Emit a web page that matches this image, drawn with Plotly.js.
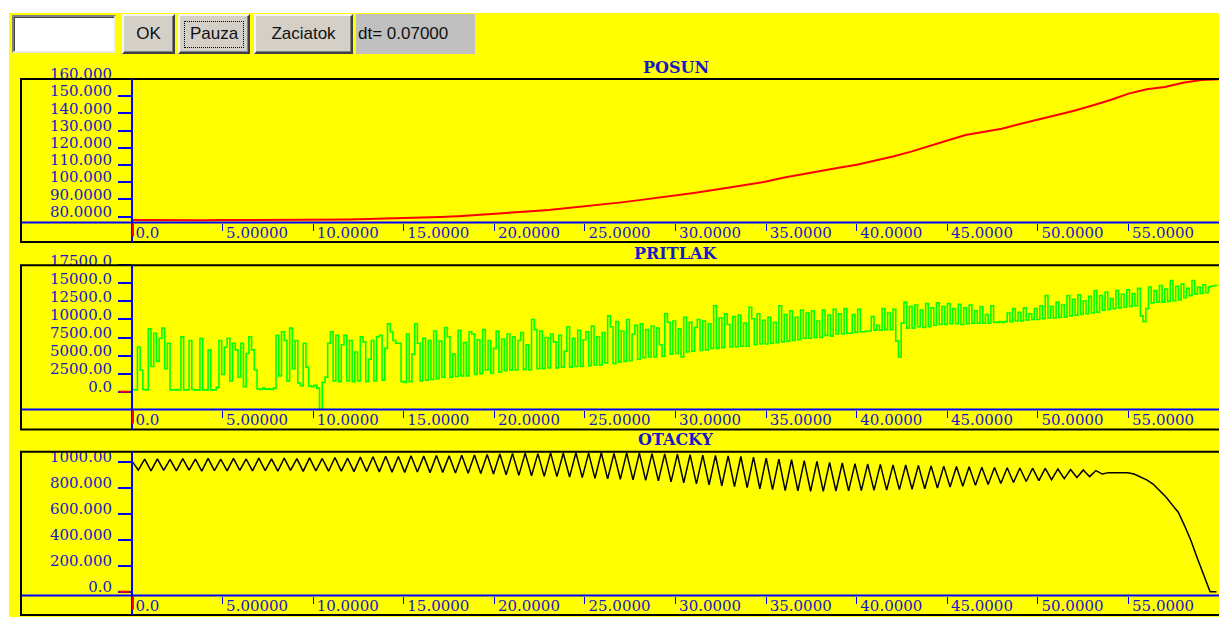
<!DOCTYPE html>
<html><head><meta charset="utf-8">
<script src="https://cdn.plot.ly/plotly-3.0.1.min.js"></script>
<style>
html,body{margin:0;padding:0;background:#fff;width:1219px;height:617px;overflow:hidden;}
#chart{position:absolute;left:0;top:0;width:1219px;height:617px;}
.ctl{position:absolute;box-sizing:border-box;font-family:'Liberation Sans',Arial,sans-serif;font-size:17px;color:#111;display:flex;align-items:center;justify-content:center;z-index:5;}
.btn{background:#d4d0c8;border-top:2px solid #f4f4f4;border-left:2px solid #f4f4f4;border-right:2px solid #404040;border-bottom:2px solid #404040;box-shadow:inset -1px -1px 0 #808080;}
.inp{background:#fff;border-top:2px solid #808080;border-left:2px solid #808080;border-right:2px solid #e8e8e8;border-bottom:2px solid #e8e8e8;box-shadow:inset 1px 1px 0 #404040;}
.lbl{background:#c0c0c0;justify-content:flex-start;padding-left:2px;}
.focus{position:absolute;left:4px;top:5px;right:4px;bottom:4px;border:1px dotted #000;}
</style>
</head><body>
<div id="chart"></div>
<div class="ctl inp" style="left:12px;top:15px;width:104px;height:38px;"></div>
<div class="ctl btn" style="left:122px;top:14px;width:53px;height:40px;">OK</div>
<div class="ctl btn" style="left:178px;top:14px;width:72px;height:40px;"><div class="focus"></div>Pauza</div>
<div class="ctl btn" style="left:254px;top:14px;width:99px;height:40px;">Zaciatok</div>
<div class="ctl lbl" style="left:356px;top:14px;width:119px;height:40px;">dt= 0.07000</div>
<script>
// ---------------- data ----------------
const xTickVals = [0, 5, 10, 15, 20, 25, 30, 35, 40, 45, 50, 55];
const xTickText = ["0.0", "5.00000", "10.0000", "15.0000", "20.0000", "25.0000", "30.0000", "35.0000", "40.0000", "45.0000", "50.0000", "55.0000"];

const posunTickVals = [80, 90, 100, 110, 120, 130, 140, 150, 160];
const posunTickText = ["80.0000", "90.0000", "100.000", "110.000", "120.000", "130.000", "140.000", "150.000", "160.000"];
const pritlakTickVals = [0, 2500, 5000, 7500, 10000, 12500, 15000, 17500];
const pritlakTickText = ["0.0", "2500.00", "5000.00", "7500.00", "10000.0", "12500.0", "15000.0", "17500.0"];
const otackyTickVals = [0, 200, 400, 600, 800, 1000];
const otackyTickText = ["0.0", "200.000", "400.000", "600.000", "800.000", "1000.00"];

// sample steps (s) of the read-off series
const posunStep = 1;
const pritlakStep = 0.15;
const otackyStep = 0.35;

// POSUN, one value per second from t = 0
const posun = [78.0, 77.9, 77.9, 78.0, 77.9, 78.0, 78.0, 78.1, 78.0, 78.1,
  78.2, 78.3, 78.4, 78.6, 78.8, 79.1, 79.4, 79.8, 80.3, 80.9,
  81.6, 82.3, 83.1, 83.9, 84.9, 86.0, 87.1, 88.3, 89.6, 90.9,
  92.3, 93.8, 95.3, 96.9, 98.6, 100.4, 102.7, 104.7, 106.5, 108.4,
  110.2, 112.4, 115.0, 117.8, 121.2, 124.3, 127.4, 129.4, 131.1, 133.8,
  136.4, 138.7, 141.5, 144.6, 147.8, 151.5, 154.0, 155.4, 157.8, 159.4, 159.9];

// PRITLAK, one value per 0.15 s from t = 0
const pritlak = [300, 250, 6200, 3000, 300, 250, 8700, 3500, 8100, 4200,
  7400, 8800, 3200, 6700, 250, 250, 250, 250, 7600, 250,
  250, 7100, 300, 250, 250, 7400, 250, 250, 5800, 250,
  250, 600, 7100, 2400, 6200, 7400, 1500, 6700, 5800, 2000,
  6700, 700, 5300, 7600, 5800, 3000, 400, 300, 500, 350,
  400, 300, 500, 7800, 2200, 8300, 7100, 1500, 8800, 3200,
  7100, 1200, 800, 6700, 3400, 800, 700, 900, 500, -2500,
  1300, 2000, 6700, 8300, 1500, 7800, 1400, 6500, 7800, 1500,
  7100, 1400, 5500, 1500, 7600, 6900, 1400, 4500, 7100, 1500,
  7600, 7800, 1600, 6000, 9400, 8300, 7100, 6700, 6700, 1400,
  1300, 8000, 1400, 5200, 9400, 6700, 1500, 7400, 1600, 7100,
  1700, 8400, 1800, 7000, 2000, 8900, 7600, 2000, 5200, 2100,
  8500, 2200, 6800, 2200, 8300, 8000, 2400, 7200, 2500, 8600,
  3000, 7100, 2600, 6000, 8400, 2700, 7300, 2900, 8000, 3000,
  7600, 3000, 7100, 8200, 3100, 6500, 3000, 10000, 8600, 3200,
  8400, 3200, 7500, 3300, 8000, 6900, 3300, 7800, 3400, 5600,
  9000, 3400, 7400, 3500, 8500, 3500, 7200, 8300, 3600, 9100,
  3700, 7600, 3700, 8200, 4000, 10500, 9000, 3900, 9700, 4100,
  8400, 4200, 10000, 4300, 8000, 9200, 4500, 9400, 4700, 8600,
  4800, 9100, 4800, 8800, 6500, 4900, 10800, 9600, 5200, 9800,
  5300, 8700, 4800, 10300, 5500, 9600, 5600, 8900, 10000, 5700,
  9800, 5800, 9400, 6000, 11900, 6000, 10200, 6100, 10800, 9300,
  6200, 10400, 6200, 10600, 6300, 9500, 6300, 11700, 10100, 6500,
  10800, 6600, 9900, 6600, 10300, 6700, 9600, 6800, 11900, 6900,
  10700, 7000, 11200, 7100, 10300, 7200, 11300, 7400, 10900, 7400,
  11200, 7500, 9800, 7500, 11300, 7800, 10600, 7700, 11400, 8000,
  10800, 8000, 11500, 8100, 8100, 10700, 8200, 11400, 8300, 8300,
  8400, 8400, 10400, 8500, 9200, 8500, 11500, 8600, 10900, 8600,
  11400, 7000, 4800, 9500, 12400, 8800, 11800, 8800, 12000, 9000,
  11300, 8900, 12200, 9000, 11600, 9200, 12300, 9300, 11800, 9300,
  12200, 9400, 11500, 9400, 12100, 9300, 11600, 9400, 12000, 9500,
  11200, 9500, 11800, 9500, 10700, 9500, 11900, 9600, 9600, 9700,
  9600, 9700, 10900, 9700, 11500, 9800, 11000, 9800, 11600, 9900,
  10800, 10000, 11500, 10000, 11900, 10100, 13300, 10200, 11800, 10200,
  12400, 10300, 12000, 10300, 13300, 10500, 12800, 10600, 13400, 10700,
  12600, 10800, 13200, 10900, 14000, 11000, 13300, 11300, 13800, 11400,
  12900, 11500, 14000, 11600, 13500, 11700, 14100, 11800, 13600, 11900,
  14300, 10500, 9700, 11500, 14500, 12300, 14000, 12400, 14700, 12400,
  14200, 12500, 15400, 12600, 14600, 12700, 14900, 13000, 14300, 13300,
  15400, 13500, 14500, 13600, 14800, 13700, 14500, 14600, 14700, 14800];

// OTACKY, one value per 0.35 s from t = 0 (peaks and troughs)
const otacky = [1005, 935, 1020, 930, 1022, 933, 1018, 930, 1024, 935,
  1020, 928, 1025, 932, 1019, 930, 1026, 934, 1021, 929,
  1027, 931, 1022, 928, 1028, 933, 1024, 926, 1030, 930,
  1025, 927, 1032, 928, 1027, 924, 1035, 926, 1038, 922,
  1042, 920, 1040, 918, 1046, 921, 1043, 916, 1048, 918,
  1045, 914, 1050, 912, 1052, 910, 1055, 905, 1060, 900,
  1063, 895, 1066, 892, 1062, 888, 1068, 885, 1065, 882,
  1069, 878, 1066, 872, 1069, 868, 1064, 865, 1068, 860,
  1066, 856, 1062, 852, 1060, 845, 1058, 838, 1055, 830,
  1050, 822, 1048, 815, 1045, 808, 1040, 800, 1035, 792,
  1028, 785, 1020, 778, 1015, 775, 1008, 772, 1002, 772,
  995, 775, 990, 776, 985, 778, 982, 780, 980, 782,
  976, 785, 975, 788, 972, 792, 968, 798, 966, 805,
  963, 812, 962, 818, 958, 825, 956, 832, 954, 840,
  952, 848, 950, 855, 948, 862, 944, 870, 940, 878,
  937, 885, 932, 905, 916, 917, 916, 915, 905, 885,
  860, 828, 782, 730, 670, 610, 505, 390, 255, 120,
  0, 0];

// ---------------- layout geometry (pixels) ----------------
const W = 1219, H = 617;
const plotLeft = 132, frameLeft = 21;
const xRange = [0, 59.99];
const panels = [
  {top: 79, axis: 222.5, bottom: 242, titleY: 67, range: [76.6, 160], title: 'POSUN'},
  {top: 265.3, axis: 409.5, bottom: 429.5, titleY: 253, range: [-2460, 17500], title: 'PRITLAK'},
  {top: 451.7, axis: 595.5, bottom: 615, titleY: 439.5, range: [-29, 1077], title: 'OTACKY'}
];
const BLUE = '#0000ff', TXT = '#1818c8';
const fx = p => p / W, fy = p => 1 - p / H;
const valToPx = (v, pn) => pn.axis - (v - pn.range[0]) / (pn.range[1] - pn.range[0]) * (pn.axis - pn.top);

const tickFont = {family: 'DejaVu Serif, Liberation Serif, serif', size: 15, color: TXT};
const layout = {
  width: W, height: H, margin: {l: 0, r: 0, t: 0, b: 0},
  paper_bgcolor: '#ffff00', plot_bgcolor: '#ffff00', showlegend: false,
  shapes: [], annotations: []
};
const yTicks = [[posunTickVals, posunTickText], [pritlakTickVals, pritlakTickText], [otackyTickVals, otackyTickText]];
panels.forEach((pn, k) => {
  const sfx = k === 0 ? '' : String(k + 1);
  layout['xaxis' + sfx] = {
    domain: [fx(plotLeft), 1], range: xRange, anchor: 'y' + sfx,
    tickvals: xTickVals, ticktext: xTickText, ticks: 'outside', ticklen: 7, tickwidth: 1, tickcolor: BLUE,
    ticklabelposition: 'outside right', ticklabelstandoff: -4, ticklabelshift: 3,
    showgrid: false, zeroline: false, showline: false, tickfont: tickFont, fixedrange: true
  };
  layout['yaxis' + sfx] = {
    domain: [fy(pn.axis), fy(pn.top)], range: pn.range, anchor: 'x' + sfx,
    tickvals: yTicks[k][0], ticktext: yTicks[k][1], ticks: 'outside', ticklen: 13, tickwidth: 2, tickcolor: BLUE,
    ticklabelposition: 'outside', ticklabelshift: -5, ticklabelstandoff: 3,
    showgrid: false, zeroline: false, showline: false, tickfont: tickFont, fixedrange: true
  };
  // frame
  layout.shapes.push({type: 'rect', xref: 'paper', yref: 'paper', x0: fx(frameLeft), x1: 1.01, y0: fy(pn.bottom), y1: fy(pn.top),
    line: {color: '#000000', width: 2}, fillcolor: 'rgba(0,0,0,0)', layer: 'above'});
  // blue axis lines
  layout.shapes.push({type: 'line', xref: 'paper', yref: 'paper', x0: fx(frameLeft), x1: 1.01, y0: fy(pn.axis), y1: fy(pn.axis),
    line: {color: BLUE, width: 2}, layer: 'above'});
  layout.shapes.push({type: 'line', xref: 'paper', yref: 'paper', x0: fx(plotLeft), x1: fx(plotLeft), y0: fy(pn.top), y1: fy(pn.bottom),
    line: {color: BLUE, width: 2}, layer: 'above'});
  // red origin tick on the x axis
  layout.shapes.push({type: 'line', xref: 'paper', yref: 'paper', x0: fx(plotLeft + 1), x1: fx(plotLeft + 1), y0: fy(pn.axis + 1), y1: fy(pn.axis + 14),
    line: {color: '#ff0000', width: 2}, layer: 'above'});
  // red zero tick on the y axis
  if (pn.range[0] <= 0 && pn.range[1] >= 0) {
    const z = valToPx(0, pn);
    layout.shapes.push({type: 'line', xref: 'paper', yref: 'paper', x0: fx(plotLeft - 13), x1: fx(plotLeft - 2), y0: fy(z), y1: fy(z),
      line: {color: '#ff0000', width: 2}, layer: 'above'});
  }
  layout.annotations.push({xref: 'paper', yref: 'paper', x: fx((plotLeft + W) / 2), y: fy(pn.titleY), xanchor: 'center', yanchor: 'middle',
    text: pn.title, showarrow: false, font: {family: 'DejaVu Serif, Liberation Serif, serif', size: 16, color: TXT, weight: 'bold'}});
});
// white margin of the window
layout.shapes.push({type: 'rect', xref: 'paper', yref: 'paper', x0: 0, x1: fx(9), y0: 0, y1: 1, line: {width: 0}, fillcolor: '#ffffff', layer: 'below'});
layout.shapes.push({type: 'rect', xref: 'paper', yref: 'paper', x0: 0, x1: 1, y0: fy(13), y1: 1, line: {width: 0}, fillcolor: '#ffffff', layer: 'below'});

const traces = [
  {type: 'scatter', mode: 'lines', x0: 0, dx: posunStep, y: posun, xaxis: 'x', yaxis: 'y', line: {color: '#ff0000', width: 2}, name: 'POSUN'},
  {type: 'scatter', mode: 'lines', x0: 0, dx: pritlakStep, y: pritlak, xaxis: 'x2', yaxis: 'y2', line: {color: '#00ff00', width: 1.6, shape: 'hv'}, name: 'PRITLAK'},
  {type: 'scatter', mode: 'lines', x0: 0, dx: otackyStep, y: otacky, xaxis: 'x3', yaxis: 'y3', line: {color: '#000000', width: 1.5}, name: 'OTACKY'}
];
Plotly.newPlot('chart', traces, layout, {staticPlot: true, displayModeBar: false});
</script>
</body></html>
